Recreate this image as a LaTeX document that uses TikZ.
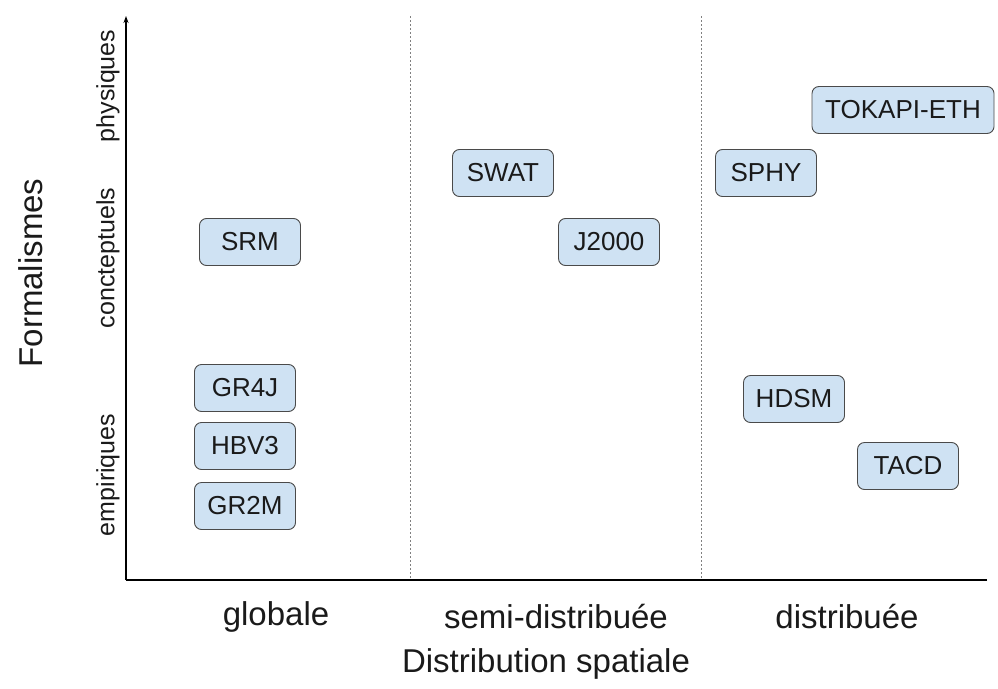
\documentclass[tikz,border=0pt]{standalone}
\usepackage{fontspec}
\setmainfont{Liberation Sans}
\usetikzlibrary{arrows.meta}
\definecolor{boxblue}{HTML}{CFE2F3}
\definecolor{boxline}{HTML}{4A4A4A}
\definecolor{inktext}{HTML}{1A1A1A}
\tikzset{
	modelbox/.style={draw=boxline, line width=0.9pt, fill=boxblue, rounded corners=7pt, minimum width=101pt, minimum height=47pt, inner sep=0pt, text=inktext, font=\fontsize{26}{30}\selectfont},
	levellabel/.style={rotate=90, text=inktext, font=\fontsize{25}{29}\selectfont},
	classlabel/.style={text=inktext, font=\fontsize{33}{38}\selectfont},
	sepline/.style={gray, line width=0.7pt, dash pattern=on 2pt off 2pt}
}
\begin{document}
\begin{tikzpicture}[x=1pt, y=-1pt]
		%%%%% START %%%%%
		\useasboundingbox (0, 0) rectangle (998, 688);
		
		\coordinate (origin) at (126, 580);
		\coordinate (ytop) at (126, 16);
		\coordinate (xend) at (987, 580);
		\coordinate (septop1) at (410, 16);
		\coordinate (sepbot1) at (410, 580);
		\coordinate (septop2) at (701, 16);
		\coordinate (sepbot2) at (701, 580);
		
		\draw[sepline] (septop1) -- (sepbot1);
		\draw[sepline] (septop2) -- (sepbot2);
		
		\draw[line width=1.2pt] (xend) -- (origin);
		\draw[line width=1.2pt, -{Stealth[length=7pt, width=5pt]}] (origin) -- (ytop);
		
		\node[levellabel] (phys) at (108, 86) {physiques};
		\node[levellabel] (conc) at (108, 258) {concteptuels};
		\node[levellabel] (empi) at (108, 475) {empiriques};
		\node[classlabel, rotate=90] (formal) at (31, 273) {Formalismes};
		
		\node[modelbox] (srm) at (250, 242) {SRM};
		\node[modelbox] (gr4j) at (245, 388) {GR4J};
		\node[modelbox] (hbv3) at (245, 446) {HBV3};
		\node[modelbox] (gr2m) at (245, 506) {GR2M};
		
		\node[modelbox] (swat) at (503, 173) {SWAT};
		\node[modelbox] (j2000) at (609, 242) {J2000};
		
		\node[modelbox, minimum width=182pt] (tokapi) at (903, 110) {TOKAPI-ETH};
		\node[modelbox] (sphy) at (766, 173) {SPHY};
		\node[modelbox] (hdsm) at (794, 399) {HDSM};
		\node[modelbox] (tacd) at (908, 466) {TACD};
		
		\node[classlabel] (glob) at (276, 617) {globale};
		\node[classlabel] (semi) at (556, 617) {semi-distribuée};
		\node[classlabel] (dist) at (847, 617) {distribuée};
		\node[classlabel] (spatial) at (546, 664) {Distribution spatiale};
		
		%%%%% END %%%%%
	\end{tikzpicture}
\end{document}
